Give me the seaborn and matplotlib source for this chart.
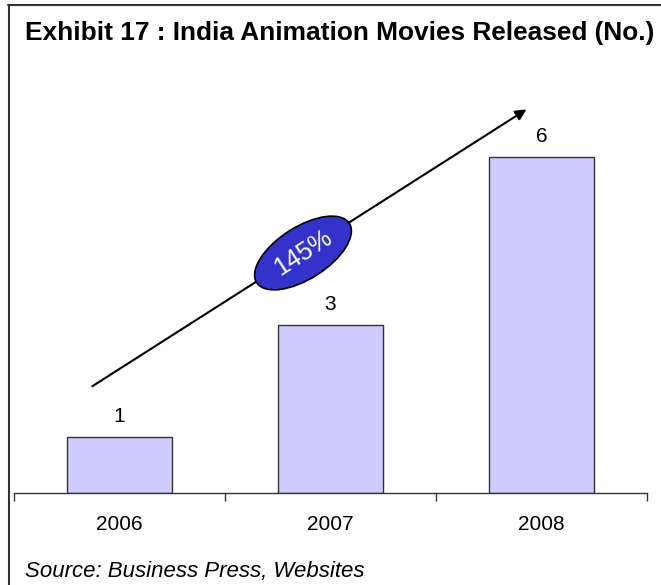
import matplotlib
matplotlib.use("Agg")
import matplotlib.pyplot as plt
import seaborn as sns
from matplotlib.patches import Ellipse
from matplotlib.lines import Line2D

years = ["2006", "2007", "2008"]
movies = [1, 3, 6]
growth_label = "145%"

sns.set_style("white")
plt.rcParams["font.family"] = ["Liberation Sans", "DejaVu Sans"]
plt.rcParams["text.color"] = "black"
plt.rcParams["xtick.color"] = "black"

fig = plt.figure(figsize=(6.61, 5.85), dpi=100)
ax = fig.add_axes([0.0212, 0.1573, 0.9576, 0.6889])

sns.barplot(x=years, y=movies, color="#CCCCFF", edgecolor="#333333",
            linewidth=1, width=0.5, saturation=1, ax=ax)

# value labels above bars
for i, v in enumerate(movies):
    ax.text(i, v + 0.2, str(v), ha="center", va="bottom", fontsize=15)

ax.set_xlim(-0.5, 2.5)
ax.set_ylim(0, 7.2)
ax.set_yticks([])
for s in ["top", "right", "left"]:
    ax.spines[s].set_visible(False)
ax.spines["bottom"].set_color("#333333")
ax.spines["bottom"].set_linewidth(1)

# ticks sit at the category boundaries, labels at the centres
ax.set_xticks([-0.5, 0.5, 1.5, 2.5], minor=True)
ax.tick_params(axis="x", which="minor", bottom=True, length=6, direction="out",
               color="#333333", width=1)
ax.tick_params(axis="x", which="major", length=0, pad=16, labelsize=15, labelcolor="black")

# growth arrow
ax.annotate("", xy=(1.94, 6.88), xytext=(-0.14, 1.88),
            arrowprops=dict(arrowstyle="-|>", color="black", lw=1.5, mutation_scale=16),
            annotation_clip=False)

# CAGR bubble
fig.add_artist(Ellipse((3.03, 3.32), 1.10, 0.52, angle=32.6,
                       transform=fig.dpi_scale_trans,
                       facecolor="#3333CC", edgecolor="black", lw=1.2, zorder=5))
fig.text(3.03 / 6.61, 3.32 / 5.85, growth_label, rotation=33, color="white",
         fontsize=18, ha="center", va="center", rotation_mode="anchor", zorder=6)

# frame of the exhibit
fig.add_artist(Line2D([8 / 661, 1], [1 - 5 / 585, 1 - 5 / 585], color="#333333", lw=1.5))
fig.add_artist(Line2D([9 / 661, 9 / 661], [0, 1 - 5 / 585], color="#333333", lw=1.5))

fig.text(25 / 661, 1 - 33 / 585, "Exhibit 17 : India Animation Movies Released (No.)",
         fontsize=18.9, fontweight="bold", ha="left", va="center")
fig.text(25 / 661, 1 - 572 / 585, "Source: Business Press, Websites",
         fontsize=16, fontstyle="italic", ha="left", va="center")

fig.savefig("out.png", dpi=100)
